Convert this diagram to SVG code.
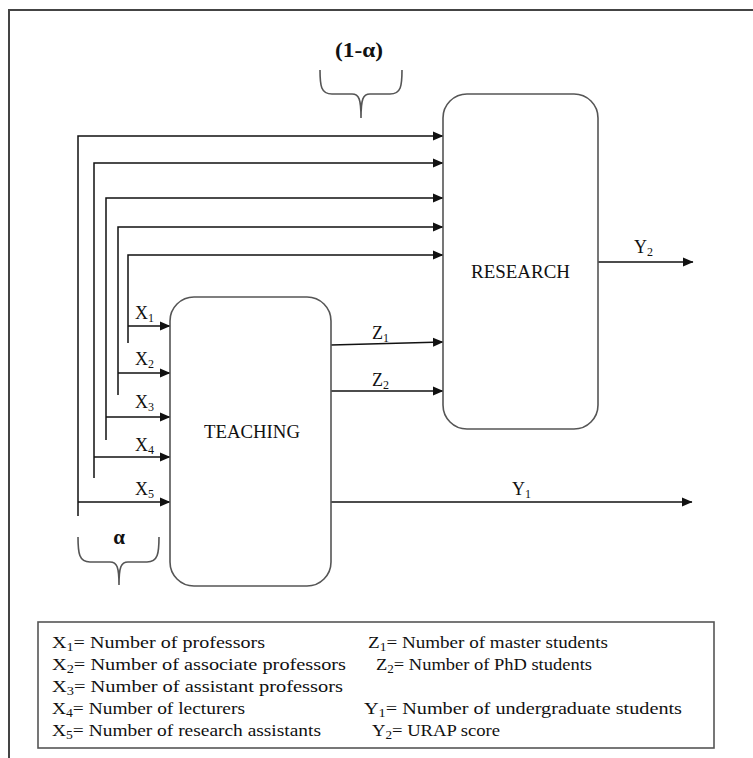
<svg xmlns="http://www.w3.org/2000/svg" width="753" height="758" viewBox="0 0 753 758" font-family="'Liberation Serif', 'Times New Roman', serif">
<defs>
<marker id="arr" markerUnits="userSpaceOnUse" markerWidth="11" markerHeight="10" refX="10" refY="5" orient="auto">
<path d="M0,0.5 L10.5,5 L0,9.5 z" fill="#111"/>
</marker>
<style>
.frame{fill:none;stroke:#444;stroke-width:2}
.box{fill:#fff;stroke:#555;stroke-width:1.6}
.con{fill:none;stroke:#111;stroke-width:1.5}
.brace{fill:none;stroke:#555;stroke-width:1.6}
text{font-family:'Liberation Serif','Times New Roman',serif;fill:#111}
.lbl{font-size:18px}
.leg{font-size:17px}
.sub{font-size:12px}
</style>
</defs>
<rect x="0" y="0" width="753" height="758" fill="#fff"/>
<path class="frame" d="M9,758 V10 H753"/>

<g id="connectors">
<path class="con" d="M78,516 V136 H443" marker-end="url(#arr)"/>
<path class="con" d="M94,478 V163 H443" marker-end="url(#arr)"/>
<path class="con" d="M106,440 V198 H443" marker-end="url(#arr)"/>
<path class="con" d="M118,395 V227 H443" marker-end="url(#arr)"/>
<path class="con" d="M128,343 V255 H443" marker-end="url(#arr)"/>
<path class="con" d="M128,326 H170" marker-end="url(#arr)"/>
<path class="con" d="M118,373 H170" marker-end="url(#arr)"/>
<path class="con" d="M106,417 H170" marker-end="url(#arr)"/>
<path class="con" d="M94,457 H170" marker-end="url(#arr)"/>
<path class="con" d="M78,502 H170" marker-end="url(#arr)"/>
<path class="con" d="M331,345 L443,342" marker-end="url(#arr)"/>
<path class="con" d="M331,391 H443" marker-end="url(#arr)"/>
<path class="con" d="M331,502 H692" marker-end="url(#arr)"/>
<path class="con" d="M598,262 H693" marker-end="url(#arr)"/>
<text class="lbl" x="135" y="319">X<tspan class="sub" dy="3">1</tspan></text>
<text class="lbl" x="135" y="365">X<tspan class="sub" dy="3">2</tspan></text>
<text class="lbl" x="135" y="408">X<tspan class="sub" dy="3">3</tspan></text>
<text class="lbl" x="135" y="451">X<tspan class="sub" dy="3">4</tspan></text>
<text class="lbl" x="135" y="495">X<tspan class="sub" dy="3">5</tspan></text>
<text class="lbl" x="372" y="339">Z<tspan class="sub" dy="3">1</tspan></text>
<text class="lbl" x="372" y="386">Z<tspan class="sub" dy="3">2</tspan></text>
<text class="lbl" x="512" y="495">Y<tspan class="sub" dy="3">1</tspan></text>
<text class="lbl" x="634" y="253">Y<tspan class="sub" dy="3">2</tspan></text>
</g>

<g id="research">
<rect class="box" x="443" y="94" width="155" height="335" rx="24" ry="24"/>
<text class="lbl" x="520.5" y="278" text-anchor="middle" textLength="99" lengthAdjust="spacingAndGlyphs">RESEARCH</text>
</g>

<g id="teaching">
<rect class="box" x="170" y="297" width="161" height="289" rx="24" ry="24"/>
<text class="lbl" x="252" y="438" text-anchor="middle" textLength="96" lengthAdjust="spacingAndGlyphs">TEACHING</text>
</g>

<g id="brace-top">
<path class="brace" d="M320,70 C320,86 321,94 332,94 L352,94 C359,94 361,99 361,118 C361,99 363,94 370,94 L390,94 C401,94 402,86 402,70"/>
<text x="359" y="57" text-anchor="middle" font-size="20" font-weight="bold" textLength="48" lengthAdjust="spacingAndGlyphs">(1-α)</text>
</g>

<g id="brace-bottom">
<path class="brace" d="M78,537 C78,553 79,562 90,562 L110,562 C117,562 119,567 119,585 C119,567 121,562 128,562 L147,562 C158,562 159,553 159,537"/>
<text x="119" y="544" text-anchor="middle" font-size="21" font-weight="bold">α</text>
</g>

<g id="legend">
<rect x="38" y="622" width="676" height="126" fill="none" stroke="#555" stroke-width="1.6"/>
<text class="leg" x="52" y="648" textLength="213" lengthAdjust="spacingAndGlyphs">X<tspan class="sub" dy="3">1</tspan><tspan dy="-3">= Number of professors</tspan></text>
<text class="leg" x="52" y="670" textLength="294" lengthAdjust="spacingAndGlyphs">X<tspan class="sub" dy="3">2</tspan><tspan dy="-3">= Number of associate professors</tspan></text>
<text class="leg" x="52" y="692" textLength="291" lengthAdjust="spacingAndGlyphs">X<tspan class="sub" dy="3">3</tspan><tspan dy="-3">= Number of assistant professors</tspan></text>
<text class="leg" x="52" y="714" textLength="193" lengthAdjust="spacingAndGlyphs">X<tspan class="sub" dy="3">4</tspan><tspan dy="-3">= Number of lecturers</tspan></text>
<text class="leg" x="52" y="736" textLength="269" lengthAdjust="spacingAndGlyphs">X<tspan class="sub" dy="3">5</tspan><tspan dy="-3">= Number of research assistants</tspan></text>
<text class="leg" x="368" y="648" textLength="240" lengthAdjust="spacingAndGlyphs">Z<tspan class="sub" dy="3">1</tspan><tspan dy="-3">= Number of master students</tspan></text>
<text class="leg" x="376" y="670" textLength="216" lengthAdjust="spacingAndGlyphs">Z<tspan class="sub" dy="3">2</tspan><tspan dy="-3">= Number of PhD students</tspan></text>
<text class="leg" x="364" y="714" textLength="318" lengthAdjust="spacingAndGlyphs">Y<tspan class="sub" dy="3">1</tspan><tspan dy="-3">= Number of undergraduate students</tspan></text>
<text class="leg" x="372" y="736" textLength="128" lengthAdjust="spacingAndGlyphs">Y<tspan class="sub" dy="3">2</tspan><tspan dy="-3">= URAP score</tspan></text>
</g>
</svg>
